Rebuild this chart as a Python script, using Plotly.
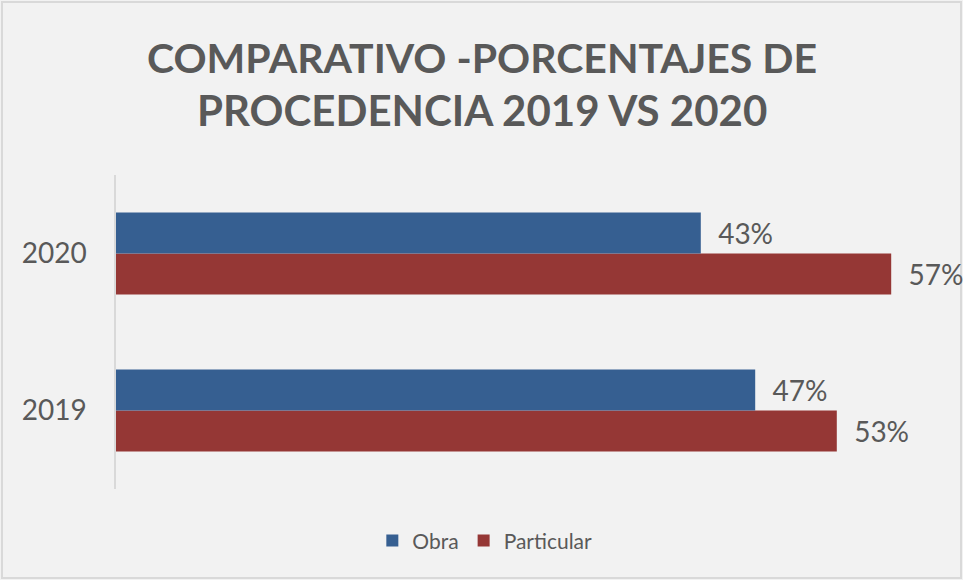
import plotly.graph_objects as go

years = ["2019", "2020"]
obra = [0.47, 0.43]
particular = [0.53, 0.57]
series_names = ["Obra", "Particular"]
colors = {"Obra": "#365F91", "Particular": "#953735"}
title_lines = ["COMPARATIVO -PORCENTAJES DE", "PROCEDENCIA 2019 VS 2020"]

FONT = "Lato"
GRAY = "#595959"
NB = "\u00a0\u00a0"

fig = go.Figure()
fig.add_trace(go.Bar(
    y=years, x=particular, name=series_names[1], orientation="h",
    marker=dict(color=colors["Particular"], line=dict(width=0)),
    text=[f"{NB}{v:.0%}" for v in particular], textposition="outside",
    textfont=dict(family=FONT, size=28, color=GRAY), cliponaxis=False,
))
fig.add_trace(go.Bar(
    y=years, x=obra, name=series_names[0], orientation="h",
    marker=dict(color=colors["Obra"], line=dict(width=0)),
    text=[f"{NB}{v:.0%}" for v in obra], textposition="outside",
    textfont=dict(family=FONT, size=28, color=GRAY), cliponaxis=False,
))

PH = 314
fig.update_layout(
    width=963, height=580,
    paper_bgcolor="#F2F2F2", plot_bgcolor="#F2F2F2",
    barmode="group", bargap=0.478, bargroupgap=0,
    margin=dict(l=116, r=31, t=175, b=91, autoexpand=False),
    showlegend=True,
    legend=dict(orientation="h", x=0.452, xanchor="center", y=-0.165, yanchor="middle",
                traceorder="reversed",
                font=dict(family=FONT, size=21, color=GRAY)),
    xaxis=dict(range=[0, 0.6], visible=False, showgrid=False, zeroline=False),
    yaxis=dict(showline=True, linecolor="#D9D9D9", linewidth=1.5, ticks="",
               showgrid=False, ticklabelstandoff=22,
               tickfont=dict(family=FONT, size=28, color=GRAY)),
)
for line, py, fs in zip(title_lines, [57, 110], [41, 42]):
    fig.add_annotation(text=f"<b>{line}</b>", xref="paper", yref="paper",
                       x=(482 - 116) / 816, xanchor="center",
                       y=(489 - py) / PH, yanchor="middle", showarrow=False,
                       font=dict(family=FONT, size=fs, color=GRAY))
fig.add_shape(type="rect", xref="x domain", yref="y domain",
              x0=-114/816, x1=(816+29)/816, y0=-89/PH, y1=(PH+173)/PH,
              line=dict(color="#D9D9D9", width=2), layer="below")
fig.write_html("out.html", config={"displayModeBar": False},
               post_script="document.body.style.margin='0';document.body.style.overflow='hidden';")
